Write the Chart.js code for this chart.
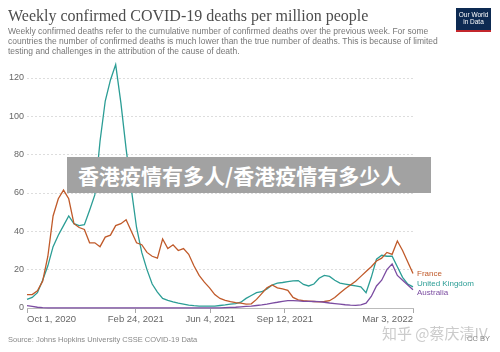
<!DOCTYPE html>
<html>
<head>
<meta charset="utf-8">
<script src="https://cdn.jsdelivr.net/npm/chart.js@4.4.1/dist/chart.umd.min.js"></script>
<style>
  html, body { margin: 0; padding: 0; background: #fff; }
  #wrap { position: relative; width: 500px; height: 352px; overflow: hidden; font-family: "Liberation Sans", Arial, sans-serif; }
  #chartBox { position: absolute; left: 0; top: 0; width: 500px; height: 352px; }
  .title { position: absolute; left: 8px; top: 8px; font-family: "Liberation Serif", serif; font-size: 16px; line-height: 16px; color: #4d4d4d; white-space: nowrap; }
  .sub { position: absolute; left: 8px; top: 25.5px; font-size: 8.5px; line-height: 10px; color: #777; white-space: nowrap; }
  .logo { position: absolute; left: 456px; top: 8px; width: 35px; height: 19px; background: #0d2a52; border-bottom: 2px solid #c3262c; color: #fff; font-size: 6.5px; line-height: 7px; text-align: center; padding-top: 2.5px; box-sizing: content-box; }
  .source { position: absolute; left: 8px; top: 335px; font-size: 7.5px; line-height: 9px; color: #888; white-space: nowrap; }
  .cc { position: absolute; right: 10px; top: 334px; font-size: 7.5px; line-height: 9px; color: #888; }
  .zhihu { position: absolute; left: 382px; top: 324px; font-family: "Noto Sans CJK SC", sans-serif; font-size: 15px; line-height: 18px; color: rgba(190,190,190,0.8); white-space: nowrap; }
  .banner { position: absolute; left: 67px; top: 157px; width: 364px; height: 36px; background: #a2a2a2; }
  .banner span { position: absolute; left: 11px; top: 5px; font-family: "Noto Sans CJK SC", sans-serif; font-weight: bold; font-size: 21px; line-height: 26px; color: #fff; white-space: nowrap; }
</style>
</head>
<body>
<div id="wrap">
  <div id="chartBox"><canvas id="chart"></canvas></div>
  <div class="title">Weekly confirmed COVID-19 deaths per million people</div>
  <div class="sub">Weekly confirmed deaths refer to the cumulative number of confirmed deaths over the previous week. For some<br>countries the number of confirmed deaths is much lower than the true number of deaths. This is because of limited<br>testing and challenges in the attribution of the cause of death.</div>
  <div class="logo">Our World<br>in Data</div>
  <div class="source">Source: Johns Hopkins University CSSE COVID-19 Data</div>
  <div class="zhihu">知乎 @蔡庆清IV</div>
  <div class="cc">CC BY</div>
  <div class="banner"><span>香港疫情有多人/香港疫情有多少人</span></div>
</div>
<script>
// weekly samples, starting Oct 1, 2020 (day 0) and ending Mar 3, 2022 (day 518)
const startDate = Date.UTC(2020, 9, 1);
const tickDays = [0, 146, 246, 346, 518];

const france = [
  7, 7, 9, 14, 27, 48, 57, 61.5, 57, 44,
  42, 41, 34, 34, 32, 37, 38, 43, 44, 46,
  40, 34, 33, 29, 27, 26, 36, 31, 33, 30,
  31, 28, 22, 17, 13.5, 10.5, 7, 5, 4, 3.3,
  2.8, 2.5, 2, 2.2, 4.5, 7.5, 10.5, 12, 10.5, 10,
  9.2, 5.5, 4.2, 3.8, 3.6, 3.4, 3.2, 3.4, 3.8, 5.5,
  7.8, 10, 12, 14, 16.5, 19, 21.5, 24.5, 26, 29,
  28, 35, 30, 24, 18
];
const unitedKingdom = [
  4.5, 5.5, 8, 14.5, 22, 32, 38, 43, 48, 44,
  43, 43.5, 51, 59, 87, 108, 119, 127, 107, 83,
  62, 42, 29, 20, 12.5, 8.3, 5, 4, 3.2, 2.5,
  2, 1.5, 1.2, 1, 1, 1, 1, 1.3, 1.6, 2,
  2.3, 3, 5, 6.5, 8, 8.5, 10, 12, 13, 13.3,
  13.8, 14.2, 14.3, 12.3, 11.5, 12.5, 15.5, 17, 16.5, 14.5,
  13, 12.5, 12, 11.5, 11, 8, 16, 25.5, 27.5, 27,
  27, 21.5, 16, 12.5, 11
];
const australia = [
  1.2, 0.8, 0.4, 0.2, 0.1, 0.05, 0.05, 0.05, 0.05, 0.05,
  0.05, 0.05, 0.05, 0.05, 0.05, 0.05, 0.05, 0.05, 0.05, 0.05,
  0.05, 0.05, 0.05, 0.05, 0.05, 0.05, 0.05, 0.05, 0.05, 0.05,
  0.05, 0.05, 0.05, 0.05, 0.05, 0.05, 0.05, 0.1, 0.2, 0.3,
  0.4, 0.6, 0.8, 1, 1.3, 1.6, 2, 2.6, 3, 3.5,
  3.8, 3.8, 3.7, 3.5, 3.5, 3.4, 3.3, 3, 2.6, 2.3,
  2, 1.7, 1.5, 1.4, 1.6, 2.5, 6, 11.5, 14.5, 20,
  23, 17, 14.5, 12, 9.5
];

const months = ['Jan', 'Feb', 'Mar', 'Apr', 'May', 'Jun', 'Jul', 'Aug', 'Sep', 'Oct', 'Nov', 'Dec'];
function formatDay(day) {
    const d = new Date(startDate + day * 86400000);
    return months[d.getUTCMonth()] + ' ' + d.getUTCDate() + ', ' + d.getUTCFullYear();
}

function toPoints(values) {
    return values.map((v, i) => ({ x: i * 7, y: v }));
}

// draws the country names next to the last point of each line
const endLabels = {
    id: 'endLabels',
    afterDatasetsDraw(chart) {
        const { ctx, chartArea } = chart;
        const items = chart.data.datasets.map((ds, i) => {
            const meta = chart.getDatasetMeta(i);
            const last = meta.data[meta.data.length - 1];
            return { text: ds.label, color: ds.borderColor, y: last.y };
        }).sort((a, b) => a.y - b.y);

        for (let pass = 0; pass < 20; pass++) {
            for (let i = 1; i < items.length; i++) {
                const gap = items[i].y - items[i - 1].y;
                if (gap < 8.5) {
                    const d = (8.5 - gap) / 2;
                    items[i - 1].y -= d;
                    items[i].y += d;
                }
            }
        }

        ctx.save();
        ctx.font = '8px "Liberation Sans", Arial, sans-serif';
        ctx.textBaseline = 'middle';
        items.forEach(it => {
            ctx.fillStyle = it.color;
            ctx.fillText(it.text, chartArea.right + 4, it.y);
        });
        ctx.restore();
    }
};

const lineStyle = {
    borderWidth: 1.3,
    pointRadius: 0,
    tension: 0,
    fill: false,
    clip: false
};

new Chart(document.getElementById('chart').getContext('2d'), {
    type: 'line',
    data: {
        datasets: [
            { label: 'Australia', data: toPoints(australia), borderColor: '#7b4ca1', ...lineStyle },
            { label: 'France', data: toPoints(france), borderColor: '#c05a2a', ...lineStyle },
            { label: 'United Kingdom', data: toPoints(unitedKingdom), borderColor: '#2b9d95', ...lineStyle }
        ]
    },
    options: {
        responsive: true,
        maintainAspectRatio: false,
        animation: false,
        layout: { padding: { top: 78, right: 87, left: 0, bottom: 0 } },
        plugins: {
            legend: { display: false },
            tooltip: { enabled: false }
        },
        scales: {
            x: {
                type: 'linear',
                min: 0,
                max: 518,
                afterBuildTicks: (scale) => {
                    scale.ticks = tickDays.map(v => ({ value: v }));
                },
                afterFit: (scale) => { scale.height = 44; },
                ticks: {
                    autoSkip: false,
                    maxRotation: 0,
                    align: 'inner',
                    padding: 1,
                    color: '#666',
                    font: { family: '"Liberation Sans", Arial, sans-serif', size: 9.5 },
                    callback: (value) => formatDay(value)
                },
                grid: {
                    drawOnChartArea: false,
                    drawTicks: true,
                    tickLength: 5,
                    color: '#aaa'
                },
                border: { display: true, color: '#bbb' }
            },
            y: {
                min: 0,
                max: 120,
                afterFit: (scale) => { scale.width = 27; },
                ticks: {
                    stepSize: 20,
                    padding: 3,
                    color: '#666',
                    font: { family: '"Liberation Sans", Arial, sans-serif', size: 9 }
                },
                grid: {
                    drawTicks: false,
                    color: '#ddd'
                },
                border: { display: false, dash: [2, 2] }
            }
        }
    },
    plugins: [endLabels]
});
</script>
</body>
</html>
